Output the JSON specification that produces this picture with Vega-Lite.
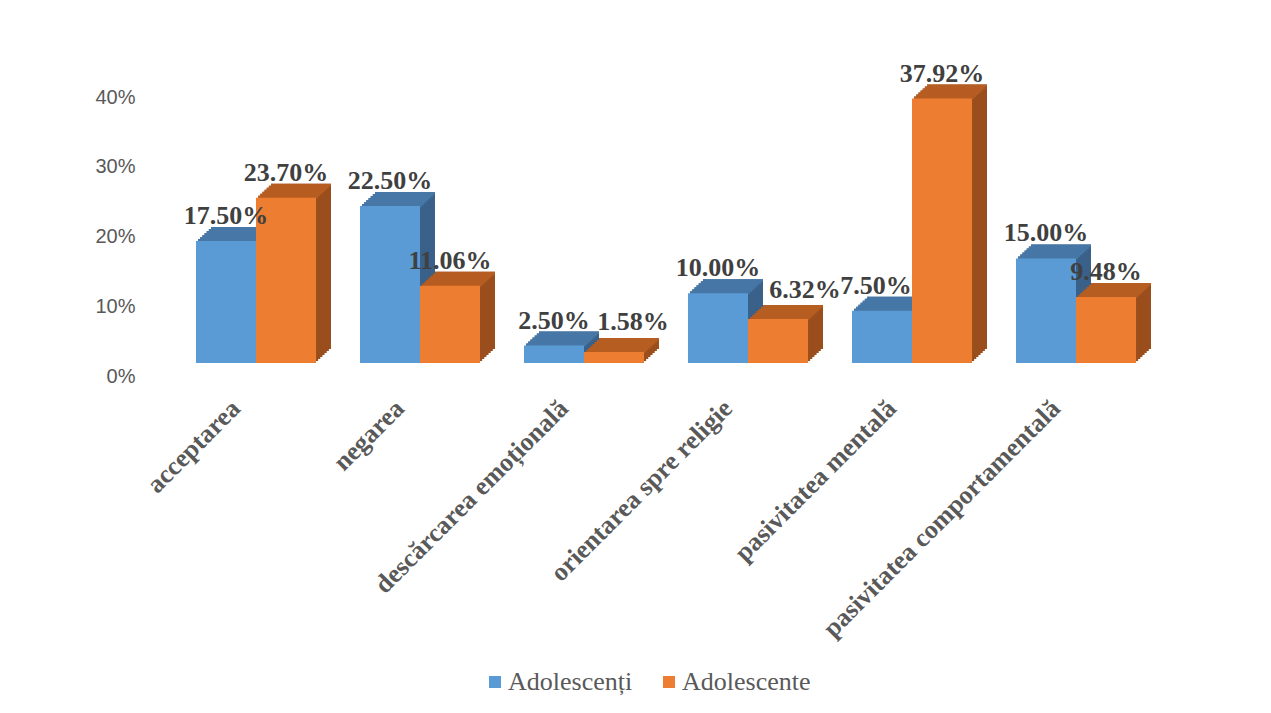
{
  "$schema": "https://vega.github.io/schema/vega-lite/v6.json",
  "autosize": {"type": "none"},
  "padding": {"left": 174, "top": 97, "right": 113, "bottom": 337},
  "width": 984,
  "height": 279,
  "background": "white",
  "config": {"view": {"stroke": null}},
  "data": {"values": [
    {"cat": "acceptarea", "group": "Adolescenți", "value": 0.175},
    {"cat": "acceptarea", "group": "Adolescente", "value": 0.237},
    {"cat": "negarea", "group": "Adolescenți", "value": 0.225},
    {"cat": "negarea", "group": "Adolescente", "value": 0.1106},
    {"cat": "descărcarea emoțională", "group": "Adolescenți", "value": 0.025},
    {"cat": "descărcarea emoțională", "group": "Adolescente", "value": 0.0158},
    {"cat": "orientarea spre religie", "group": "Adolescenți", "value": 0.10},
    {"cat": "orientarea spre religie", "group": "Adolescente", "value": 0.0632},
    {"cat": "pasivitatea mentală", "group": "Adolescenți", "value": 0.075},
    {"cat": "pasivitatea mentală", "group": "Adolescente", "value": 0.3792},
    {"cat": "pasivitatea comportamentală", "group": "Adolescenți", "value": 0.15},
    {"cat": "pasivitatea comportamentală", "group": "Adolescente", "value": 0.0948}
  ]},
  "encoding": {
    "x": {"field": "cat", "type": "nominal", "sort": null, "title": null,
      "scale": {"paddingInner": 0.268, "paddingOuter": 0.134},
      "axis": {"domain": false, "ticks": false, "labelAngle": -45, "labelAlign": "right", "labelBaseline": "middle",
        "labelFont": "Liberation Serif", "labelFontWeight": "bold", "labelFontSize": 26, "labelColor": "#595959",
        "labelLimit": 600, "labelOffset": -20, "labelPadding": 28}},
    "y": {"field": "value", "type": "quantitative", "title": null,
      "scale": {"domain": [0, 0.4], "nice": false},
      "axis": {"format": ".0%", "values": [0, 0.1, 0.2, 0.3, 0.4], "grid": false, "domain": false, "ticks": false,
        "labelFont": "Liberation Sans", "labelFontSize": 20, "labelColor": "#595959", "labelPadding": 39}}
  },
  "layer": [
    {"transform": [{"filter": {"field": "group", "equal": "Adolescenți"}}], "mark": {"type": "bar", "width": 60, "xOffset": -15, "yOffset": -27, "y2Offset": -27, "fill": "#3A6189"}},
    {"transform": [{"filter": {"field": "group", "equal": "Adolescente"}}], "mark": {"type": "bar", "width": 60, "xOffset": 45, "yOffset": -27, "y2Offset": -27, "fill": "#9B4E1D"}},
    {"transform": [{"filter": {"field": "group", "equal": "Adolescenți"}}], "mark": {"type": "bar", "width": 60, "xOffset": -17.14, "yOffset": -25, "y2Offset": -25, "fill": "#3A6189"}},
    {"transform": [{"filter": {"field": "group", "equal": "Adolescente"}}], "mark": {"type": "bar", "width": 60, "xOffset": 42.86, "yOffset": -25, "y2Offset": -25, "fill": "#9B4E1D"}},
    {"transform": [{"filter": {"field": "group", "equal": "Adolescenți"}}], "mark": {"type": "bar", "width": 60, "xOffset": -19.29, "yOffset": -23, "y2Offset": -23, "fill": "#3A6189"}},
    {"transform": [{"filter": {"field": "group", "equal": "Adolescente"}}], "mark": {"type": "bar", "width": 60, "xOffset": 40.71, "yOffset": -23, "y2Offset": -23, "fill": "#9B4E1D"}},
    {"transform": [{"filter": {"field": "group", "equal": "Adolescenți"}}], "mark": {"type": "bar", "width": 60, "xOffset": -21.43, "yOffset": -21, "y2Offset": -21, "fill": "#3A6189"}},
    {"transform": [{"filter": {"field": "group", "equal": "Adolescente"}}], "mark": {"type": "bar", "width": 60, "xOffset": 38.57, "yOffset": -21, "y2Offset": -21, "fill": "#9B4E1D"}},
    {"transform": [{"filter": {"field": "group", "equal": "Adolescenți"}}], "mark": {"type": "bar", "width": 60, "xOffset": -23.57, "yOffset": -19, "y2Offset": -19, "fill": "#3A6189"}},
    {"transform": [{"filter": {"field": "group", "equal": "Adolescente"}}], "mark": {"type": "bar", "width": 60, "xOffset": 36.43, "yOffset": -19, "y2Offset": -19, "fill": "#9B4E1D"}},
    {"transform": [{"filter": {"field": "group", "equal": "Adolescenți"}}], "mark": {"type": "bar", "width": 60, "xOffset": -25.71, "yOffset": -17, "y2Offset": -17, "fill": "#3A6189"}},
    {"transform": [{"filter": {"field": "group", "equal": "Adolescente"}}], "mark": {"type": "bar", "width": 60, "xOffset": 34.29, "yOffset": -17, "y2Offset": -17, "fill": "#9B4E1D"}},
    {"transform": [{"filter": {"field": "group", "equal": "Adolescenți"}}], "mark": {"type": "bar", "width": 60, "xOffset": -27.86, "yOffset": -15, "y2Offset": -15, "fill": "#3A6189"}},
    {"transform": [{"filter": {"field": "group", "equal": "Adolescente"}}], "mark": {"type": "bar", "width": 60, "xOffset": 32.14, "yOffset": -15, "y2Offset": -15, "fill": "#9B4E1D"}},

    {"transform": [{"filter": {"field": "group", "equal": "Adolescenți"}}], "mark": {"type": "bar", "width": 60, "xOffset": -15, "yOffset": -27, "y2Offset": -24.4, "fill": "#4677A6"}, "encoding": {"y2": {"field": "value"}}},
    {"transform": [{"filter": {"field": "group", "equal": "Adolescente"}}], "mark": {"type": "bar", "width": 60, "xOffset": 45, "yOffset": -27, "y2Offset": -24.4, "fill": "#B65D22"}, "encoding": {"y2": {"field": "value"}}},
    {"transform": [{"filter": {"field": "group", "equal": "Adolescenți"}}], "mark": {"type": "bar", "width": 60, "xOffset": -17.14, "yOffset": -25, "y2Offset": -22.4, "fill": "#4677A6"}, "encoding": {"y2": {"field": "value"}}},
    {"transform": [{"filter": {"field": "group", "equal": "Adolescente"}}], "mark": {"type": "bar", "width": 60, "xOffset": 42.86, "yOffset": -25, "y2Offset": -22.4, "fill": "#B65D22"}, "encoding": {"y2": {"field": "value"}}},
    {"transform": [{"filter": {"field": "group", "equal": "Adolescenți"}}], "mark": {"type": "bar", "width": 60, "xOffset": -19.29, "yOffset": -23, "y2Offset": -20.4, "fill": "#4677A6"}, "encoding": {"y2": {"field": "value"}}},
    {"transform": [{"filter": {"field": "group", "equal": "Adolescente"}}], "mark": {"type": "bar", "width": 60, "xOffset": 40.71, "yOffset": -23, "y2Offset": -20.4, "fill": "#B65D22"}, "encoding": {"y2": {"field": "value"}}},
    {"transform": [{"filter": {"field": "group", "equal": "Adolescenți"}}], "mark": {"type": "bar", "width": 60, "xOffset": -21.43, "yOffset": -21, "y2Offset": -18.4, "fill": "#4677A6"}, "encoding": {"y2": {"field": "value"}}},
    {"transform": [{"filter": {"field": "group", "equal": "Adolescente"}}], "mark": {"type": "bar", "width": 60, "xOffset": 38.57, "yOffset": -21, "y2Offset": -18.4, "fill": "#B65D22"}, "encoding": {"y2": {"field": "value"}}},
    {"transform": [{"filter": {"field": "group", "equal": "Adolescenți"}}], "mark": {"type": "bar", "width": 60, "xOffset": -23.57, "yOffset": -19, "y2Offset": -16.4, "fill": "#4677A6"}, "encoding": {"y2": {"field": "value"}}},
    {"transform": [{"filter": {"field": "group", "equal": "Adolescente"}}], "mark": {"type": "bar", "width": 60, "xOffset": 36.43, "yOffset": -19, "y2Offset": -16.4, "fill": "#B65D22"}, "encoding": {"y2": {"field": "value"}}},
    {"transform": [{"filter": {"field": "group", "equal": "Adolescenți"}}], "mark": {"type": "bar", "width": 60, "xOffset": -25.71, "yOffset": -17, "y2Offset": -14.4, "fill": "#4677A6"}, "encoding": {"y2": {"field": "value"}}},
    {"transform": [{"filter": {"field": "group", "equal": "Adolescente"}}], "mark": {"type": "bar", "width": 60, "xOffset": 34.29, "yOffset": -17, "y2Offset": -14.4, "fill": "#B65D22"}, "encoding": {"y2": {"field": "value"}}},
    {"transform": [{"filter": {"field": "group", "equal": "Adolescenți"}}], "mark": {"type": "bar", "width": 60, "xOffset": -27.86, "yOffset": -15, "y2Offset": -12.4, "fill": "#4677A6"}, "encoding": {"y2": {"field": "value"}}},
    {"transform": [{"filter": {"field": "group", "equal": "Adolescente"}}], "mark": {"type": "bar", "width": 60, "xOffset": 32.14, "yOffset": -15, "y2Offset": -12.4, "fill": "#B65D22"}, "encoding": {"y2": {"field": "value"}}},

    {"mark": {"type": "bar", "yOffset": -13, "y2Offset": -13},
      "encoding": {
        "xOffset": {"field": "group", "type": "nominal", "sort": ["Adolescenți", "Adolescente"], "scale": {"paddingInner": 0, "paddingOuter": 0}},
        "color": {"field": "group", "type": "nominal", "sort": ["Adolescenți", "Adolescente"],
          "scale": {"domain": ["Adolescenți", "Adolescente"], "range": ["#5B9BD5", "#ED7D31"]},
          "legend": {"orient": "none", "legendX": 308, "legendY": 572, "direction": "horizontal", "title": null,
            "symbolType": "square", "symbolSize": 144, "symbolStrokeWidth": 0,
            "labelFont": "Liberation Serif", "labelFontSize": 26, "labelColor": "#595959",
            "labelOffset": 0, "columnPadding": 23, "labelLimit": 400}}
      }},
    {"transform": [{"filter": {"not": {"field": "value", "oneOf": [0.0158, 0.0632, 0.075]}}}],
      "mark": {"type": "text", "baseline": "alphabetic", "dy": -30, "font": "Liberation Serif", "fontWeight": "bold", "fontSize": 26, "color": "#404040"},
      "encoding": {
        "xOffset": {"field": "group", "type": "nominal", "sort": ["Adolescenți", "Adolescente"], "scale": {"paddingInner": 0, "paddingOuter": 0}},
        "text": {"field": "value", "type": "quantitative", "format": ".2%"}
      }},
    {"transform": [{"filter": {"field": "value", "equal": 0.0158}}],
      "mark": {"type": "text", "baseline": "alphabetic", "dx": 19, "dy": -35, "font": "Liberation Serif", "fontWeight": "bold", "fontSize": 26, "color": "#404040"},
      "encoding": {
        "xOffset": {"field": "group", "type": "nominal", "sort": ["Adolescenți", "Adolescente"], "scale": {"paddingInner": 0, "paddingOuter": 0}},
        "text": {"field": "value", "type": "quantitative", "format": ".2%"}
      }},
    {"transform": [{"filter": {"field": "value", "equal": 0.0632}}],
      "mark": {"type": "text", "baseline": "alphabetic", "dx": 27, "dy": -34, "font": "Liberation Serif", "fontWeight": "bold", "fontSize": 26, "color": "#404040"},
      "encoding": {
        "xOffset": {"field": "group", "type": "nominal", "sort": ["Adolescenți", "Adolescente"], "scale": {"paddingInner": 0, "paddingOuter": 0}},
        "text": {"field": "value", "type": "quantitative", "format": ".2%"}
      }},
    {"transform": [{"filter": {"field": "value", "equal": 0.075}}],
      "mark": {"type": "text", "baseline": "alphabetic", "dx": -6, "dy": -30, "font": "Liberation Serif", "fontWeight": "bold", "fontSize": 26, "color": "#404040"},
      "encoding": {
        "xOffset": {"field": "group", "type": "nominal", "sort": ["Adolescenți", "Adolescente"], "scale": {"paddingInner": 0, "paddingOuter": 0}},
        "text": {"field": "value", "type": "quantitative", "format": ".2%"}
      }}
  ]
}
